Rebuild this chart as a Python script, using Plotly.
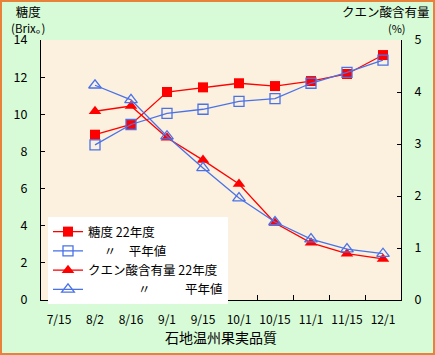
import plotly.graph_objects as go

categories = ["7/15", "8/2", "8/16", "9/1", "9/15", "10/1", "10/15", "11/1", "11/15", "12/1"]
sugar_22 = [None, 8.9, 9.45, 11.2, 11.45, 11.67, 11.52, 11.79, 12.17, 13.19]
sugar_avg = [None, 8.35, 9.45, 10.05, 10.27, 10.7, 10.84, 11.67, 12.26, 12.92]
acid_22 = [None, 3.63, 3.73, 3.12, 2.69, 2.23, 1.48, 1.1, 0.89, 0.79]
acid_avg = [None, 4.13, 3.85, 3.15, 2.54, 1.96, 1.5, 1.17, 0.98, 0.89]

names = ["糖度 22年度",
         "\u3000\u2005〃\u3000平年値",
         "クエン酸含有量 22年度",
         "\u3000\u3000\u3000\u2002\u2002〃\u3000\u3000\u2002\u2005平年値"]

RED = "#ff0000"
BLUE = "#4a72e8"
FONT = "Noto Sans CJK JP"

fig = go.Figure()
fig.add_trace(go.Scatter(x=categories, y=sugar_22, name=names[0], mode="lines+markers",
                         line=dict(color=RED, width=1.3),
                         marker=dict(symbol="square", size=10, color=RED)))
fig.add_trace(go.Scatter(x=categories, y=sugar_avg, name=names[1], mode="lines+markers",
                         line=dict(color=BLUE, width=1.3),
                         marker=dict(symbol="square-open", size=10, color=BLUE, line=dict(width=1.3))))
fig.add_trace(go.Scatter(x=categories, y=acid_22, name=names[2], mode="lines+markers", yaxis="y2",
                         line=dict(color=RED, width=1.3),
                         marker=dict(symbol="triangle-up", size=11, color=RED)))
fig.add_trace(go.Scatter(x=categories, y=acid_avg, name=names[3], mode="lines+markers", yaxis="y2",
                         line=dict(color=BLUE, width=1.3),
                         marker=dict(symbol="triangle-up-open", size=11, color=BLUE, line=dict(width=1.3))))

W, H = 435, 355
L, R, T, B = 41, 34, 40, 55
pw, ph = W - L - R, H - T - B

fig.update_layout(
    width=W, height=H,
    margin=dict(l=L, r=R, t=T, b=B),
    paper_bgcolor="#d6fbd6",
    plot_bgcolor="#fcf1de",
    font=dict(family=FONT, size=12, color="black"),
    showlegend=True,
    legend=dict(x=(48 - L) / pw, y=(300 - 217) / ph, xanchor="left", yanchor="top",
                bgcolor="white", font=dict(size=12.5, family=FONT), tracegroupgap=0,
                itemwidth=30),
    xaxis=dict(type="category", range=[-0.5, 9.5], showline=True, linecolor="black", linewidth=1,
               ticks="inside", tickson="boundaries", ticklen=5, tickcolor="black",
               tickfont=dict(size=12), tickangle=0, showgrid=False, zeroline=False,
               ticklabelstandoff=9,
               title=dict(text="石地温州果実品質", font=dict(size=14), standoff=2)),
    yaxis=dict(range=[0, 14], dtick=2, showline=True, linecolor="black", linewidth=1,
               ticks="inside", ticklen=4, tickcolor="black", showgrid=False, zeroline=False,
               tickfont=dict(size=12.5), ticklabelstandoff=10),
    yaxis2=dict(range=[0, 5], dtick=1, overlaying="y", side="right", showline=True,
                linecolor="black", linewidth=1, ticks="inside", ticklen=4, tickcolor="black",
                showgrid=False, zeroline=False, tickfont=dict(size=12.5), ticklabelstandoff=10),
)

def px(xp):
    return (xp - L) / pw

def py(yp):
    return (H - B - yp) / ph

fig.add_annotation(text="糖度<br><span style='font-size:11.5px'>(Brix。)</span>",
                   x=px(28), y=py(37), xref="paper", yref="paper",
                   xanchor="center", yanchor="bottom", showarrow=False, borderpad=0,
                   font=dict(size=12.5))
fig.add_annotation(text="クエン酸含有量<br><span style='font-size:11px'>\u3000\u3000(%)</span>",
                   x=px(386), y=py(37), xref="paper", yref="paper",
                   xanchor="center", yanchor="bottom", showarrow=False, borderpad=0,
                   font=dict(size=12.5))

fig.add_shape(type="rect", xref="paper", yref="paper",
              x0=px(1), x1=px(W - 1), y0=py(H - 1), y1=py(1),
              line=dict(color="#e8823a", width=2), fillcolor="rgba(0,0,0,0)", layer="below")

fig.write_html("out.html")
